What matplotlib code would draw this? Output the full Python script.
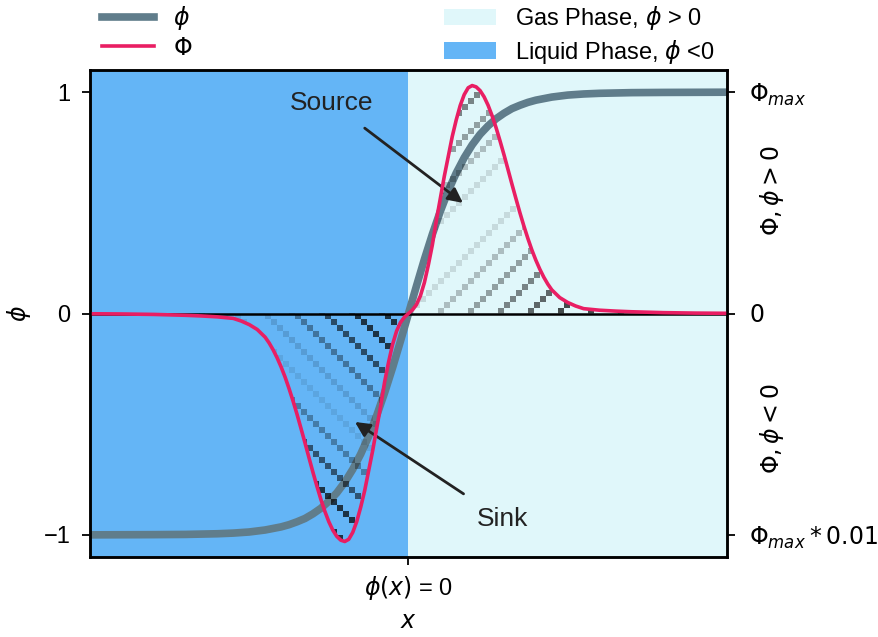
import numpy as np
import matplotlib.pyplot as plt
from matplotlib.lines import Line2D
from matplotlib.patches import Patch

plt.rcParams['font.family'] = ['Liberation Sans', 'DejaVu Sans']
plt.rcParams['mathtext.fontset'] = 'dejavusans'
plt.rcParams['font.size'] = 17

# level-set profile phi(x)
x_phi = [-5, -4, -3.5, -3, -2.75, -2.5, -2.25, -2, -1.875, -1.75, -1.625, -1.5, -1.375,
         -1.25, -1.125, -1, -0.875, -0.75, -0.625, -0.5, -0.375, -0.25, -0.125, 0,
         0.125, 0.25, 0.375, 0.5, 0.625, 0.75, 0.875, 1, 1.125, 1.25, 1.375, 1.5,
         1.625, 1.75, 1.875, 2, 2.25, 2.5, 2.75, 3, 3.5, 4, 5]
phi = [-1.0, -0.999, -0.998, -0.995, -0.992, -0.987, -0.978, -0.964, -0.954, -0.941,
       -0.926, -0.905, -0.880, -0.848, -0.810, -0.762, -0.704, -0.635, -0.555, -0.462,
       -0.358, -0.245, -0.124, 0.0, 0.124, 0.245, 0.358, 0.462, 0.555, 0.635, 0.704,
       0.762, 0.810, 0.848, 0.880, 0.905, 0.926, 0.941, 0.954, 0.964, 0.978, 0.987,
       0.992, 0.995, 0.998, 0.999, 1.0]

# source term Phi on the gas side; the sink on the liquid side mirrors it
x_src = [0, 0.0625, 0.125, 0.1875, 0.25, 0.3125, 0.375, 0.4375, 0.5, 0.5625, 0.625,
         0.6875, 0.75, 0.8125, 0.875, 0.9375, 1.0, 1.0625, 1.125, 1.1875, 1.25, 1.3125,
         1.375, 1.4375, 1.5, 1.5625, 1.625, 1.6875, 1.75, 1.8125, 1.875, 1.9375, 2.0,
         2.0625, 2.125, 2.1875, 2.25, 2.375, 2.5, 2.625, 2.75, 3.0, 3.25, 3.5, 4.0,
         4.5, 5.0]
Phi_src = [0.0, 0.016, 0.04, 0.08, 0.14, 0.22, 0.31, 0.42, 0.52, 0.62, 0.71,
           0.80, 0.875, 0.94, 0.989, 1.02, 1.03, 1.024, 1.007, 0.979, 0.941, 0.894,
           0.840, 0.780, 0.717, 0.651, 0.584, 0.519, 0.455, 0.395, 0.339, 0.287, 0.241,
           0.200, 0.164, 0.133, 0.107, 0.072, 0.05, 0.034, 0.022, 0.015, 0.011, 0.008,
           0.004, 0.002, 0.001]

x_Phi = np.concatenate([-np.array(x_src[::-1]), np.array(x_src[1:])])
Phi = np.concatenate([-np.array(Phi_src[::-1]), np.array(Phi_src[1:])])

fig = plt.figure(figsize=(8.79, 6.37), dpi=100)
ax = fig.add_axes([0.1024, 0.1256, 0.7246, 0.7644])

ax.axvspan(0, 5, color='#E0F7FA', lw=0, zorder=0)
ax.axvspan(-5, 0, color='#64B5F6', lw=0, zorder=0)

ax.plot(x_phi, phi, color='#607D8B', lw=5.5, zorder=2, solid_capstyle='butt')

# pixelated diagonal hatching with a faded band through each lobe
cx, cy = 0.094, 0.027
ix = np.arange(-54, 54)
iy = np.arange(-41, 41)
I, J = np.meshgrid(ix, iy)
right = I >= 0
d_r = I - J
d_l = I + J
stripe = np.where(right, d_r % 5 == 0, d_l % 5 == 0)
alpha = np.where(right,
                 np.clip(np.abs(d_r + 5) / 30, 0, 1) * 0.7,
                 np.clip(np.abs(d_l + 28) / 16, 0, 1) * 0.72)
rgba = np.zeros(I.shape + (4,))
rgba[..., 3] = stripe * alpha
im = ax.imshow(rgba, extent=[ix[0] * cx, (ix[-1] + 1) * cx, iy[0] * cy, (iy[-1] + 1) * cy],
               origin='lower', interpolation='nearest', aspect='auto', zorder=3)
fill = ax.fill_between(x_Phi, 0, Phi, facecolor='none', edgecolor='none')
im.set_clip_path(fill.get_paths()[0], transform=ax.transData)

ax.axhline(0, color='black', lw=1.8, zorder=3.5)
ax.plot(x_Phi, Phi, color='#E91E63', lw=2.6, zorder=4)

ax.annotate('Source', xy=(0.855, 0.50), xytext=(-1.2, 0.95), ha='center', va='center',
            fontsize=19, color='#222222',
            arrowprops=dict(arrowstyle='-|>', color='#222222', lw=2, mutation_scale=22,
                            shrinkA=12, shrinkB=0))
ax.annotate('Sink', xy=(-0.84, -0.49), xytext=(1.47, -0.93), ha='center', va='center',
            fontsize=19, color='#222222',
            arrowprops=dict(arrowstyle='-|>', color='#222222', lw=2, mutation_scale=22,
                            shrinkA=14, shrinkB=0))

ax.set_xlim(-5, 5)
ax.set_ylim(-1.1, 1.1)
ax.set_xticks([0])
ax.set_xticklabels([r'$\phi(x)$ = 0'])
ax.set_yticks([-1, 0, 1])
ax.set_xlabel('$x$', labelpad=7)
ax.set_ylabel(r'$\phi$', labelpad=8)
for s in ax.spines.values():
    s.set_linewidth(1.8)
ax.tick_params(axis='y', length=5.5, width=1.3, pad=8.5)
ax.tick_params(axis='x', length=5.5, width=1.3, pad=6.5)

ax2 = ax.twinx()
ax2.set_ylim(-1.1, 1.1)
ax2.set_yticks([-1, 0, 1])
ax2.set_yticklabels([r'$\Phi_{max}*0.01$', '$0$', r'$\Phi_{max}$'])
ax2.tick_params(length=5.5, width=1.3, pad=10.5)
for s in ax2.spines.values():
    s.set_linewidth(1.8)
ax2.text(1.07, 0.555, r'$\Phi, \phi > 0$', transform=ax2.get_yaxis_transform(),
         rotation=90, ha='center', va='center')
ax2.text(1.07, -0.52, r'$\Phi, \phi < 0$', transform=ax2.get_yaxis_transform(),
         rotation=90, ha='center', va='center')

handles = [Line2D([], [], color='#607D8B', lw=5.5),
           Line2D([], [], color='#E91E63', lw=2.6),
           Patch(color='#E0F7FA', lw=0),
           Patch(color='#64B5F6', lw=0)]
labels = [r'$\phi$', r'$\Phi$', r'Gas Phase, $\phi$ > 0', r'Liquid Phase, $\phi$ <0']
ax.legend(handles, labels, loc='lower left', bbox_to_anchor=(0, 0.985, 1, 0.2),
          mode='expand', ncol=2, borderaxespad=0.1, handlelength=2.2,
          labelspacing=0.22, frameon=False)

fig.savefig('out.png', dpi=100)
